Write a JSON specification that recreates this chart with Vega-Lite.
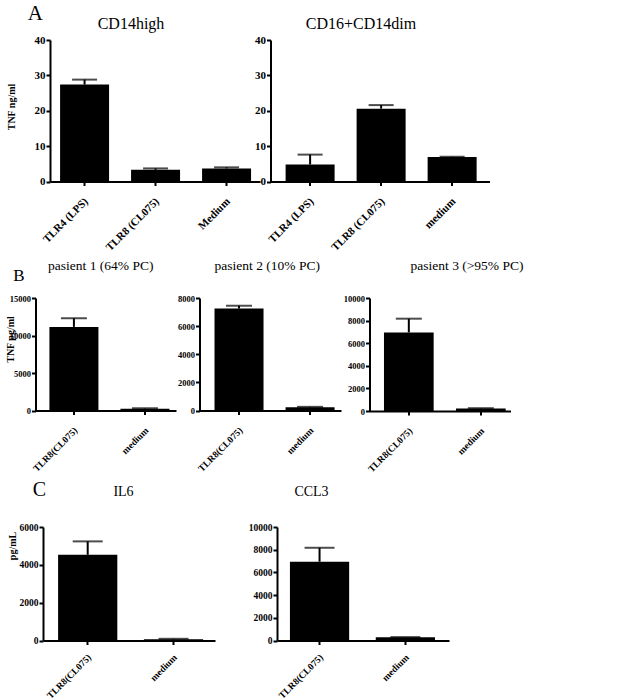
{
  "$schema": "https://vega.github.io/schema/vega-lite/v6.json",
  "padding": {"left": 0, "top": 3, "right": 2, "bottom": 1},
  "background": "white",
  "config": {
    "view": {"stroke": null},
    "font": "Liberation Serif",
    "title": {"font": "Liberation Serif", "fontWeight": "normal", "color": "black", "frame": "group"},
    "axis": {
      "grid": false,
      "domainColor": "black", "domainWidth": 2,
      "tickColor": "black", "tickWidth": 2, "tickSize": 4,
      "labelFont": "Liberation Serif", "labelFontWeight": "bold", "labelColor": "black",
      "titleFont": "Liberation Serif", "titleFontWeight": "bold", "titleColor": "black",
      "labelOverlap": false, "labelFlush": false
    },
    "axisX": {"title": null, "labelAngle": -45, "labelAlign": "right", "labelBaseline": "middle", "labelPadding": 14, "labelOffset": 2},
    "axisY": {"labelPadding": 1, "titleAngle": 270, "titleBaseline": "middle", "titleAlign": "center", "format": "d", "tickCount": 20}
  },
  "datasets": {
    "spacer": [{"k": 0}],
    "a1": [
      {"cond": "TLR4 (LPS)", "value": 27.4, "upper": 28.8},
      {"cond": "TLR8 (CL075)", "value": 3.3, "upper": 3.7},
      {"cond": "Medium", "value": 3.7, "upper": 4.0}
    ],
    "a2": [
      {"cond": "TLR4 (LPS)", "value": 4.8, "upper": 7.6},
      {"cond": "TLR8 (CL075)", "value": 20.6, "upper": 21.6},
      {"cond": "medium", "value": 6.9, "upper": 7.0}
    ],
    "b1": [
      {"cond": "TLR8(CL075)", "value": 11150, "upper": 12300},
      {"cond": "medium", "value": 250, "upper": 300}
    ],
    "b2": [
      {"cond": "TLR8(CL075)", "value": 7250, "upper": 7450},
      {"cond": "medium", "value": 230, "upper": 260}
    ],
    "b3": [
      {"cond": "TLR8(CL075)", "value": 6950, "upper": 8170},
      {"cond": "medium", "value": 220, "upper": 250}
    ],
    "c1": [
      {"cond": "TLR8(CL075)", "value": 4530, "upper": 5240},
      {"cond": "medium", "value": 70, "upper": 90}
    ],
    "c2": [
      {"cond": "TLR8(CL075)", "value": 6940, "upper": 8170},
      {"cond": "medium", "value": 280, "upper": 300}
    ]
  },
  "concat": [
    {
      "title": {"text": "A", "fontSize": 21, "anchor": "start", "frame": "bounds", "dx": 27, "offset": -8},
      "hconcat": [
        {"data": {"name": "spacer"}, "width": 1, "height": 1, "mark": {"type": "point", "opacity": 0}, "encoding": {}},
        {
          "hconcat": [
            {
              "data": {"name": "a1"},
              "width": 210, "height": 141.5,
              "title": {"text": "CD14high", "fontSize": 16, "dx": -24, "offset": 2},
              "encoding": {
                "x": {"field": "cond", "type": "nominal", "sort": null,
                      "scale": {"paddingInner": 0.31, "paddingOuter": 0.134, "align": 0.53},
                      "axis": {"labelFontSize": 11}}
              },
              "layer": [
                {"mark": {"type": "bar", "color": "black"},
                 "encoding": {"y": {"field": "value", "type": "quantitative", "scale": {"domain": [0, 40], "nice": false},
                   "axis": {"values": [0, 10, 20, 30, 40], "tickCount": 20, "labelFontSize": 11, "title": "TNF ng/ml", "titleFontSize": 10, "titleX": -39, "titleY": 66.5}}}},
                {"mark": {"type": "rule", "color": "black", "strokeWidth": 2},
                 "encoding": {"y": {"field": "value", "type": "quantitative"}, "y2": {"field": "upper"}}},
                {"mark": {"type": "tick", "color": "black", "thickness": 2, "size": 25},
                 "encoding": {"y": {"field": "upper", "type": "quantitative"}}}
              ]
            },
            {
              "data": {"name": "a2"},
              "width": 219, "height": 141.5,
              "title": {"text": "CD16+CD14dim", "fontSize": 16, "dx": -19, "offset": 2},
              "encoding": {
                "x": {"field": "cond", "type": "nominal", "sort": null,
                      "scale": {"paddingInner": 0.31, "paddingOuter": 0.197, "align": 0.54},
                      "axis": {"labelFontSize": 11}}
              },
              "layer": [
                {"mark": {"type": "bar", "color": "black"},
                 "encoding": {"y": {"field": "value", "type": "quantitative", "scale": {"domain": [0, 40], "nice": false},
                   "axis": {"values": [0, 10, 20, 30, 40], "tickCount": 20, "labelFontSize": 11, "title": null}}}},
                {"mark": {"type": "rule", "color": "black", "strokeWidth": 2},
                 "encoding": {"y": {"field": "value", "type": "quantitative"}, "y2": {"field": "upper"}}},
                {"mark": {"type": "tick", "color": "black", "thickness": 2, "size": 25},
                 "encoding": {"y": {"field": "upper", "type": "quantitative"}}}
              ]
            }
          ],
          "spacing": -5.5,
          "bounds": "full"
        }
      ],
      "spacing": -1,
      "bounds": "full"
    },
    {
      "title": {"text": "B", "fontSize": 17, "anchor": "start", "frame": "bounds", "dx": 12.5, "dy": 26, "offset": 0},
      "hconcat": [
        {"data": {"name": "spacer"}, "width": 1, "height": 1, "mark": {"type": "point", "opacity": 0}, "encoding": {}},
        {
          "hconcat": [
            {
              "data": {"name": "b1"},
              "width": 140.5, "height": 112.5,
              "title": {"text": "pasient 1 (64% PC)", "fontSize": 13.5, "dx": -5, "offset": 22},
              "encoding": {
                "x": {"field": "cond", "type": "nominal", "sort": null,
                      "scale": {"paddingInner": 0.31, "paddingOuter": 0.144, "align": 0.68},
                      "axis": {"labelFontSize": 9.5}}
              },
              "layer": [
                {"mark": {"type": "bar", "color": "black"},
                 "encoding": {"y": {"field": "value", "type": "quantitative", "scale": {"domain": [0, 15000], "nice": false},
                   "axis": {"values": [0, 5000, 10000, 15000], "tickCount": 20, "labelFontSize": 8.5, "title": "TNF pg/ml", "titleFontSize": 10, "titleX": -25, "titleY": 41}}}},
                {"mark": {"type": "rule", "color": "black", "strokeWidth": 2},
                 "encoding": {"y": {"field": "value", "type": "quantitative"}, "y2": {"field": "upper"}}},
                {"mark": {"type": "tick", "color": "black", "thickness": 2, "size": 26},
                 "encoding": {"y": {"field": "upper", "type": "quantitative"}}}
              ]
            },
            {
              "data": {"name": "b2"},
              "width": 141.5, "height": 112.5,
              "title": {"text": "pasient 2 (10% PC)", "fontSize": 13.5, "dx": -3, "offset": 22},
              "encoding": {
                "x": {"field": "cond", "type": "nominal", "sort": null,
                      "scale": {"paddingInner": 0.31, "paddingOuter": 0.151, "align": 0.7},
                      "axis": {"labelFontSize": 9.5}}
              },
              "layer": [
                {"mark": {"type": "bar", "color": "black"},
                 "encoding": {"y": {"field": "value", "type": "quantitative", "scale": {"domain": [0, 8000], "nice": false},
                   "axis": {"values": [0, 2000, 4000, 6000, 8000], "tickCount": 20, "labelFontSize": 8.5, "title": null}}}},
                {"mark": {"type": "rule", "color": "black", "strokeWidth": 2},
                 "encoding": {"y": {"field": "value", "type": "quantitative"}, "y2": {"field": "upper"}}},
                {"mark": {"type": "tick", "color": "black", "thickness": 2, "size": 26},
                 "encoding": {"y": {"field": "upper", "type": "quantitative"}}}
              ]
            },
            {
              "data": {"name": "b3"},
              "width": 141, "height": 113,
              "title": {"text": "pasient 3 (>95% PC)", "fontSize": 13.5, "dx": 27, "offset": 22},
              "encoding": {
                "x": {"field": "cond", "type": "nominal", "sort": null,
                      "scale": {"paddingInner": 0.31, "paddingOuter": 0.134, "align": 0.75},
                      "axis": {"labelFontSize": 9.5}}
              },
              "layer": [
                {"mark": {"type": "bar", "color": "black"},
                 "encoding": {"y": {"field": "value", "type": "quantitative", "scale": {"domain": [0, 10000], "nice": false},
                   "axis": {"values": [0, 2000, 4000, 6000, 8000, 10000], "tickCount": 20, "labelFontSize": 8.5, "title": null}}}},
                {"mark": {"type": "rule", "color": "black", "strokeWidth": 2},
                 "encoding": {"y": {"field": "value", "type": "quantitative"}, "y2": {"field": "upper"}}},
                {"mark": {"type": "tick", "color": "black", "thickness": 2, "size": 26},
                 "encoding": {"y": {"field": "upper", "type": "quantitative"}}}
              ]
            }
          ],
          "spacing": 1,
          "bounds": "full"
        }
      ],
      "spacing": -1.5,
      "bounds": "full"
    },
    {
      "title": {"text": "C", "fontSize": 20, "anchor": "start", "frame": "bounds", "dx": 32, "dy": 15, "offset": 0},
      "hconcat": [
        {"data": {"name": "spacer"}, "width": 1, "height": 1, "mark": {"type": "point", "opacity": 0}, "encoding": {}},
        {
          "hconcat": [
            {
              "data": {"name": "c1"},
              "width": 172, "height": 113.5,
              "title": {"text": "IL6", "fontSize": 14, "dx": -5.5, "offset": 23.5},
              "encoding": {
                "x": {"field": "cond", "type": "nominal", "sort": null,
                      "scale": {"paddingInner": 0.31, "paddingOuter": 0.157, "align": 0.56},
                      "axis": {"labelFontSize": 9.5, "labelPadding": 11}}
              },
              "layer": [
                {"mark": {"type": "bar", "color": "black"},
                 "encoding": {"y": {"field": "value", "type": "quantitative", "scale": {"domain": [0, 6000], "nice": false},
                   "axis": {"values": [0, 2000, 4000, 6000], "tickCount": 20, "labelFontSize": 9.5, "title": "pg/mL", "titleFontSize": 10, "titleX": -31, "titleY": 18.5}}}},
                {"mark": {"type": "rule", "color": "black", "strokeWidth": 2},
                 "encoding": {"y": {"field": "value", "type": "quantitative"}, "y2": {"field": "upper"}}},
                {"mark": {"type": "tick", "color": "black", "thickness": 2, "size": 30},
                 "encoding": {"y": {"field": "upper", "type": "quantitative"}}}
              ]
            },
            {
              "data": {"name": "c2"},
              "width": 172, "height": 113.5,
              "title": {"text": "CCL3", "fontSize": 14, "dx": -51.5, "offset": 23.5},
              "encoding": {
                "x": {"field": "cond", "type": "nominal", "sort": null,
                      "scale": {"paddingInner": 0.31, "paddingOuter": 0.157, "align": 0.48},
                      "axis": {"labelFontSize": 9.5, "labelPadding": 11}}
              },
              "layer": [
                {"mark": {"type": "bar", "color": "black"},
                 "encoding": {"y": {"field": "value", "type": "quantitative", "scale": {"domain": [0, 10000], "nice": false},
                   "axis": {"values": [0, 2000, 4000, 6000, 8000, 10000], "tickCount": 20, "labelFontSize": 9.5, "title": null}}}},
                {"mark": {"type": "rule", "color": "black", "strokeWidth": 2},
                 "encoding": {"y": {"field": "value", "type": "quantitative"}, "y2": {"field": "upper"}}},
                {"mark": {"type": "tick", "color": "black", "thickness": 2, "size": 30},
                 "encoding": {"y": {"field": "upper", "type": "quantitative"}}}
              ]
            }
          ],
          "spacing": 33,
          "bounds": "full"
        }
      ],
      "spacing": 0,
      "bounds": "full"
    }
  ],
  "columns": 1,
  "align": "none",
  "spacing": 5
}
